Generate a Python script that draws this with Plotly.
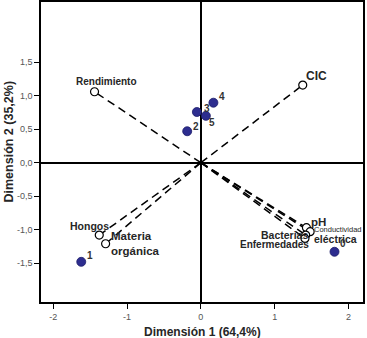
import plotly.graph_objects as go

# Variables (open circles, vectors from origin)
var_names = ["Rendimiento", "CIC", "Hongos", "Materia<br>orgánica", "pH",
             "Conductividad", "Bacterias", "Enfermedades"]
var_x = [-1.44, 1.38, -1.376, -1.29, 1.43, 1.48, 1.42, 1.41]
var_y = [1.06, 1.16, -1.08, -1.21, -0.97, -1.03, -1.08, -1.13]

# Objects (filled points)
obj_names = ["0", "1", "2", "3", "4", "5"]
obj_x = [1.81, -1.62, -0.185, -0.054, 0.17, 0.068]
obj_y = [-1.33, -1.48, 0.47, 0.757, 0.896, 0.70]

x_ticks = [-2, -1, 0, 1, 2]
x_ticklabels = ["-2", "-1", "0", "1", "2"]
y_ticks = [-1.5, -1.0, -0.5, 0.0, 0.5, 1.0, 1.5]
y_ticklabels = ["-1,5", "-1,0", "-0,5", "0,0", "0,5", "1,0", "1,5"]

x_title = "Dimensión 1 (64,4%)"
y_title = "Dimensión 2 (35,2%)"

FONT = "Liberation Sans, Arial, sans-serif"
TXT = "#262626"

fig = go.Figure()

# dashed vectors
for vx, vy in zip(var_x, var_y):
    fig.add_trace(go.Scatter(x=[0, vx], y=[0, vy], mode="lines",
                             line=dict(color="black", width=1.5, dash="8px,5px"),
                             hoverinfo="skip", showlegend=False))

fig.add_trace(go.Scatter(x=var_x, y=var_y, mode="markers",
                         marker=dict(symbol="circle", size=8, color="white",
                                     line=dict(color="black", width=1.2)),
                         showlegend=False))

fig.add_trace(go.Scatter(x=obj_x, y=obj_y, mode="markers",
                         marker=dict(symbol="circle", size=9, color="#2d2d8f",
                                     line=dict(color="#1c1c6a", width=0.8)),
                         showlegend=False))

# label styles: (xanchor, yanchor, xshift, yshift, size, bold)
var_style = {
    "Rendimiento": ("center", "bottom", 12, 3, 10, True),
    "CIC": ("left", "bottom", 1, 0, 12, True),
    "Hongos": ("right", "bottom", 12, 1, 10.5, True),
    "Materia<br>orgánica": ("left", "middle", 3, 0, 11.5, True),
    "pH": ("left", "bottom", 3, -2, 11.5, True),
    "Conductividad": ("left", "bottom", 2, -4, 7.5, False),
    "Bacterias": ("right", "middle", 4, 0, 10.5, True),
    "Enfermedades": ("right", "top", 6, 1, 10, True),
}
for n, x, y in zip(var_names, var_x, var_y):
    xa, ya, xs, ys, sz, b = var_style[n]
    txt = f"<b>{n}</b>" if b else n
    fig.add_annotation(x=x, y=y, text=txt, showarrow=False, xanchor=xa, yanchor=ya,
                       xshift=xs, yshift=ys, align="left",
                       font=dict(family=FONT, size=sz, color=TXT))
# second word of "Conductividad eléctrica"
fig.add_annotation(x=var_x[5], y=var_y[5], text="<b>eléctrica</b>", showarrow=False,
                   xanchor="left", yanchor="top", xshift=2, yshift=1,
                   font=dict(family=FONT, size=10.5, color=TXT))

obj_off = {"0": (3, 8), "1": (4, 6), "2": (4, 5), "3": (5, 4), "4": (4, 6), "5": (1, -7)}
for n, x, y in zip(obj_names, obj_x, obj_y):
    xs, ys = obj_off[n]
    fig.add_annotation(x=x, y=y, text=f"<b>{n}</b>", showarrow=False, xanchor="left",
                       yanchor="middle", xshift=xs, yshift=ys,
                       font=dict(family=FONT, size=10, color="#333333"))

# axis titles
fig.add_annotation(xref="paper", yref="paper", x=0.5, y=0, yshift=-21, text=f"<b>{x_title}</b>",
                   showarrow=False, xanchor="center", yanchor="top",
                   font=dict(family=FONT, size=12, color=TXT))
fig.add_annotation(xref="paper", yref="paper", x=0, y=0.535, xshift=-33, text=f"<b>{y_title}</b>",
                   textangle=-90, showarrow=False, xanchor="center", yanchor="middle",
                   font=dict(family=FONT, size=12.5, color=TXT))

axis_common = dict(showgrid=False, zeroline=True, zerolinecolor="black", zerolinewidth=1.5,
                   showline=True, linecolor="black", linewidth=1.5, mirror=True,
                   ticks="outside", ticklen=5, tickcolor="black", tickwidth=1,
                   tickfont=dict(family=FONT, size=9, color="#555555"), automargin=False)
fig.update_xaxes(range=[-2.165, 2.196], tickvals=x_ticks, ticktext=x_ticklabels, **axis_common)
fig.update_yaxes(range=[-2.08, 2.40], tickvals=y_ticks, ticktext=y_ticklabels, **axis_common)

fig.update_layout(width=367, height=338, margin=dict(l=41, r=4, t=2, b=36),
                  plot_bgcolor="white", paper_bgcolor="white", showlegend=False)

fig.write_html("out.html", config={"displayModeBar": False},
               post_script="document.body.style.margin='0';document.body.style.overflow='hidden';")
